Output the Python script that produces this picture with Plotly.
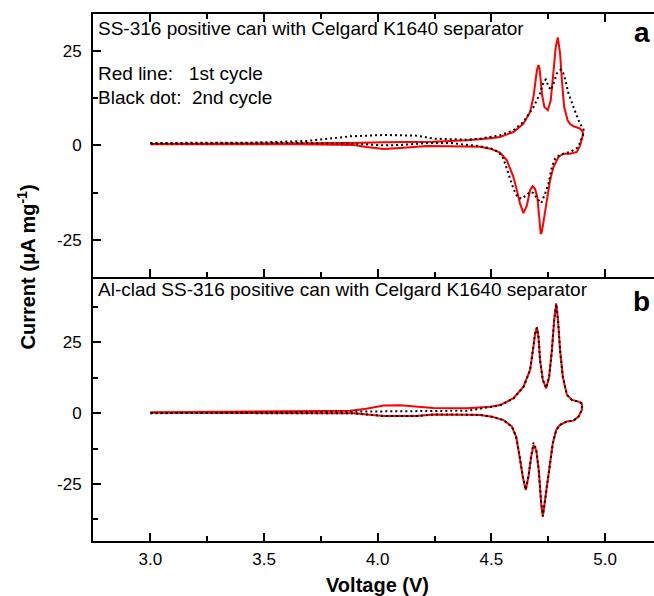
import plotly.graph_objects as go

# ---------------- DATA ----------------
# Panel a: SS-316 can, cycle 1 (red) - anodic then cathodic sweep
a1_v = [3.0, 3.44, 3.879, 4.026, 4.245, 4.392, 4.45, 4.495, 4.538, 4.597, 4.641, 4.670, 4.685, 4.692,
        4.700, 4.707, 4.711, 4.714, 4.722, 4.733, 4.748, 4.761, 4.773, 4.783, 4.792, 4.802, 4.810,
        4.820, 4.835, 4.846, 4.861, 4.876, 4.890, 4.902,
        4.902, 4.890, 4.876, 4.846, 4.817, 4.795, 4.773, 4.758, 4.744, 4.732, 4.722, 4.717, 4.711,
        4.702, 4.692, 4.681, 4.670, 4.656, 4.641, 4.626, 4.612, 4.597, 4.568, 4.538, 4.495, 4.45,
        4.319, 4.216, 4.099, 4.026, 3.952, 3.894, 3.659, 3.0]
a1_i = [0.35, 0.44, 0.62, 0.79, 0.97, 1.32, 1.59, 1.9, 2.2, 3.52, 5.73, 8.82, 12.8, 16.3,
        19.8, 21.2, 20.5, 19.0, 13.7, 10.1, 9.26, 11.9, 19.0, 26.0, 28.5, 24.3, 17.2,
        10.1, 6.61, 5.6, 5.03, 4.7, 4.41, 3.52,
        2.65, 0.0, -1.76, -2.2, -2.2, -3.09, -5.73, -9.26, -14.6, -19.8, -22.9, -23.4, -19.8,
        -13.7, -11.5, -10.8, -11.9, -15.9, -17.9, -15.4, -11.9, -8.38, -3.97, -1.9, -0.88, -0.35,
        -0.26, -0.18, -0.7, -0.97, -0.44, 0.1, 0.3, 0.26]

# Panel a: cycle 2 (black dots)
a2_v = [3.0, 3.44, 3.689, 3.777, 3.879, 4.026, 4.172, 4.245, 4.392, 4.45, 4.538, 4.597, 4.641, 4.685,
        4.714, 4.729, 4.739, 4.751, 4.761, 4.773, 4.788, 4.805, 4.817, 4.829, 4.839, 4.861, 4.883,
        4.898, 4.905,
        4.905, 4.890, 4.876, 4.846, 4.802, 4.780, 4.766, 4.751, 4.736, 4.719, 4.702, 4.685, 4.670,
        4.656, 4.634, 4.615, 4.597, 4.575, 4.553, 4.531, 4.502, 4.45, 4.319, 4.216, 4.099, 4.026,
        3.894, 3.659, 3.0]
a2_i = [0.62, 0.7, 1.15, 1.76, 2.38, 2.73, 2.56, 1.76, 1.5, 1.76, 2.65, 3.97, 6.17, 10.1,
        13.7, 16.7, 17.4, 15.6, 14.6, 16.3, 19.0, 20.0, 19.0, 16.3, 13.7, 10.1, 6.61,
        4.85, 4.23,
        3.2, 0.62, -0.71, -1.76, -2.47, -3.53, -5.73, -10.1, -12.8, -15.3, -14.1, -12.6, -12.3,
        -13.0, -14.1, -13.7, -11.5, -7.5, -3.53, -1.76, -0.88, -0.26, 0.62, 0.62, 0.09, 0.0,
        0.44, 0.62, 0.44]

# Panel b: Al-clad SS-316 can, cycle 1 (red)
b1_v = [3.0, 3.879, 3.95, 4.026, 4.099, 4.172, 4.245, 4.392, 4.45, 4.495, 4.538, 4.597, 4.641,
        4.670, 4.685, 4.692, 4.700, 4.707, 4.714, 4.726, 4.741, 4.754, 4.766, 4.776, 4.785, 4.793,
        4.802, 4.814, 4.832, 4.854, 4.883, 4.898,
        4.898, 4.883, 4.861, 4.832, 4.802, 4.785, 4.770, 4.758, 4.744, 4.733, 4.726, 4.719, 4.708,
        4.697, 4.685, 4.675, 4.663, 4.651, 4.638, 4.624, 4.609, 4.590, 4.553, 4.502, 4.45, 4.392,
        4.245, 4.172, 4.026, 3.894, 3.0]
b1_i = [0.35, 0.9, 1.6, 2.7, 2.8, 2.4, 1.9, 1.8, 2.1, 2.3, 2.9, 5.3, 9.4,
        15.3, 23.5, 28.2, 30.4, 27.0, 18.8, 11.8, 8.8, 12.9, 22.3, 32.9, 38.8, 32.9,
        22.3, 12.9, 6.5, 4.7, 4.1, 3.5,
        1.2, -1.2, -2.6, -2.9, -4.1, -5.9, -10.6, -17.7, -27.1, -34.2, -36.5, -31.8, -20.0,
        -13.0, -11.2, -15.3, -22.4, -27.1, -22.4, -15.3, -8.3, -4.7, -2.4, -1.2, -0.6, -0.5,
        -0.4, -1.0, -1.0, 0.0, 0.2]

# Panel b: cycle 2 (black dots)
b2_v = [3.0, 3.879, 4.026, 4.172, 4.392, 4.45, 4.495, 4.538, 4.597, 4.641,
        4.670, 4.685, 4.692, 4.700, 4.707, 4.714, 4.726, 4.741, 4.754, 4.766, 4.776, 4.785, 4.793,
        4.802, 4.814, 4.832, 4.854, 4.883, 4.898,
        4.898, 4.883, 4.861, 4.832, 4.802, 4.785, 4.770, 4.758, 4.744, 4.733, 4.726, 4.719, 4.708,
        4.697, 4.685, 4.675, 4.663, 4.651, 4.638, 4.624, 4.609, 4.590, 4.553, 4.502, 4.45, 4.392,
        4.245, 4.172, 4.026, 3.894, 3.0]
b2_i = [0.0, 0.6, 0.9, 0.9, 0.9, 1.6, 2.1, 2.8, 5.2, 9.3,
        15.2, 23.3, 28.0, 30.2, 26.8, 18.7, 11.8, 8.9, 12.9, 22.2, 32.8, 38.6, 32.8,
        22.2, 12.9, 6.5, 4.7, 4.1, 3.5,
        1.2, -1.2, -2.6, -2.9, -4.1, -5.9, -10.6, -17.6, -27.0, -34.0, -36.4, -31.6, -19.8,
        -12.6, -10.4, -15.0, -22.2, -27.0, -22.3, -15.2, -8.3, -4.7, -2.4, -1.2, -0.6, -0.5,
        -0.4, -1.0, -1.0, 0.0, 0.1]

x_tickvals = [3.0, 3.5, 4.0, 4.5, 5.0]
x_ticktext = ["3.0", "3.5", "4.0", "4.5", "5.0"]
x_minor = [3.25, 3.75, 4.25, 4.75]
y_tickvals = [-25, 0, 25]
y_ticktext = ["-25", "0", "25"]
ya_minor = [-12.5, 12.5]
yb_minor = [-37.5, -12.5, 12.5, 37.5]

title_a = "SS-316 positive can with Celgard K1640 separator"
title_b = "Al-clad SS-316 positive can with Celgard K1640 separator"
legend_1 = "Red line:\u00a0\u00a0 1st cycle"
legend_2 = "Black dot:\u00a0 2nd cycle"

# ---------------- FIGURE ----------------
FONT = "Liberation Sans, Arial, sans-serif"
RED = "#ff0000"
fig = go.Figure()
fig.add_trace(go.Scatter(x=a1_v, y=a1_i, xaxis="x2", yaxis="y2", mode="lines",
                         line=dict(color=RED, width=2), hoverinfo="skip"))
fig.add_trace(go.Scatter(x=a2_v, y=a2_i, xaxis="x2", yaxis="y2", mode="lines",
                         line=dict(color="black", width=2, dash="2px,3px"), hoverinfo="skip"))
fig.add_trace(go.Scatter(x=b1_v, y=b1_i, xaxis="x", yaxis="y", mode="lines",
                         line=dict(color=RED, width=2), hoverinfo="skip"))
fig.add_trace(go.Scatter(x=b2_v, y=b2_i, xaxis="x", yaxis="y", mode="lines",
                         line=dict(color="black", width=2, dash="2px,3px"), hoverinfo="skip"))

split = 0.5009
axis_common = dict(showline=True, linecolor="black", linewidth=2, ticks="inside", ticklen=8,
                   tickwidth=1.5, tickcolor="black", showgrid=False, zeroline=False,
                   tickfont=dict(family=FONT, size=17, color="black"))
xcommon = dict(axis_common, range=[2.748, 5.215], tickmode="array", tickvals=x_tickvals,
               ticktext=x_ticktext,
               minor=dict(ticks="inside", ticklen=5, tickwidth=1.5, tickcolor="black",
                          tickmode="array", tickvals=x_minor, showgrid=False))

fig.update_layout(
    width=654, height=596,
    margin=dict(l=93, r=0, t=14, b=55),
    paper_bgcolor="white", plot_bgcolor="white",
    showlegend=False,
    font=dict(family=FONT, color="black"),
    xaxis=dict(xcommon, anchor="y", domain=[0, 1], ticklabelstandoff=2),
    xaxis2=dict(xcommon, anchor="y2", domain=[0, 1], showticklabels=False, mirror="allticks",
                matches="x"),
    yaxis=dict(axis_common, anchor="x", domain=[0, split], range=[-45.1, 48.1],
               tickmode="array", tickvals=y_tickvals, ticktext=y_ticktext, ticklabelstandoff=6,
               minor=dict(ticks="inside", ticklen=5, tickwidth=1.5, tickcolor="black",
                          tickmode="array", tickvals=yb_minor, showgrid=False)),
    yaxis2=dict(axis_common, anchor="x2", domain=[split, 1], range=[-34.8, 34.7],
                tickmode="array", tickvals=y_tickvals, ticktext=y_ticktext, ticklabelstandoff=6,
                minor=dict(ticks="inside", ticklen=5, tickwidth=1.5, tickcolor="black",
                           tickmode="array", tickvals=ya_minor, showgrid=False)),
)

def ann(text, x, y, size, bold=False, xanchor="left", angle=0):
    fig.add_annotation(text=f"<b>{text}</b>" if bold else text, x=x, y=y, xref="paper",
                       yref="paper", xanchor=xanchor, yanchor="middle", showarrow=False,
                       textangle=angle, font=dict(family=FONT, size=size, color="black"))

ann(title_a, 0.0053, 0.9734, 19)
ann(legend_1, 0.0053, 0.888, 19)
ann(legend_2, 0.0053, 0.8425, 19)
ann("a", 0.9786, 0.965, 28, bold=True, xanchor="center")
ann(title_b, 0.0053, 0.4763, 19)
ann("b", 0.9786, 0.455, 28, bold=True, xanchor="center")
ann("Current (\u03bcA mg<sup>-1</sup>)", -0.1185, 0.52, 20, bold=True, xanchor="center", angle=-90)
ann("Voltage (V)", 0.507, -0.0835, 20, bold=True, xanchor="center")

fig.write_html("out.html")
